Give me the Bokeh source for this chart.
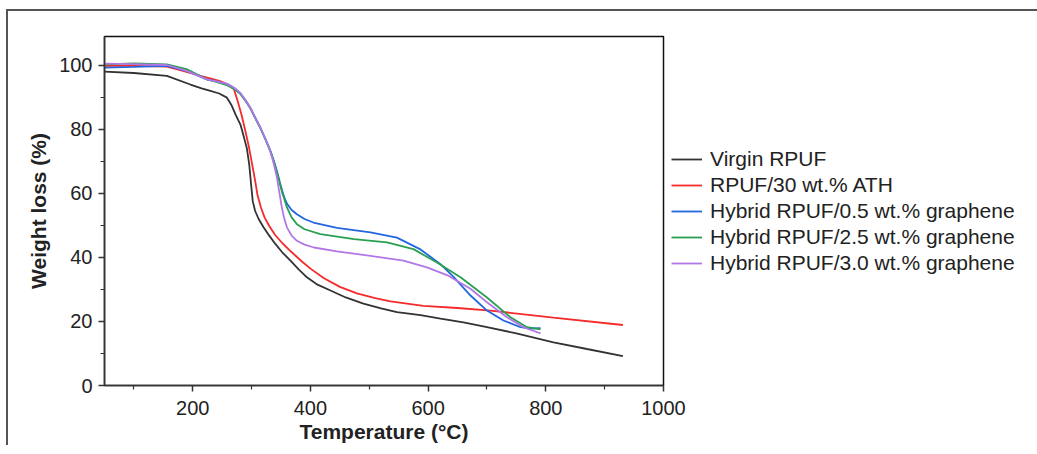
from bokeh.plotting import figure
from bokeh.models import Range1d, Legend, LegendItem, FixedTicker
from bokeh.embed import file_html
from bokeh.resources import INLINE

# ---- data ----
virgin_T = [50, 100, 156, 196, 215, 230, 245, 258, 266, 273, 281, 287, 292, 296, 299, 302, 306, 312, 320, 330, 340, 352, 366, 380, 394, 412, 435, 460, 490, 520, 547, 587, 621, 660, 700, 750, 813, 870, 931]
virgin_W = [98.0, 97.6, 96.7, 94.0, 92.8, 92.0, 91.2, 89.9, 87.5, 84.5, 81.5, 77.5, 74.0, 69.0, 63.0, 57.5, 54.5, 52.0, 49.5, 46.8, 44.3, 41.6, 39.0, 36.3, 33.8, 31.5, 29.6, 27.5, 25.6, 24.1, 22.9, 22.0, 20.9, 19.7, 18.2, 16.3, 13.5, 11.4, 9.2]

ath_T = [50, 100, 156, 185, 213, 236, 250, 262, 270, 276, 283, 290, 296, 301, 306, 310, 316, 322, 330, 340, 352, 366, 385, 400, 423, 450, 479, 510, 536, 592, 650, 706, 813, 931]
ath_W = [99.8, 99.8, 99.6, 98.2, 96.7, 95.6, 94.8, 93.8, 92.5, 89.0, 84.5, 79.0, 74.0, 69.0, 64.0, 59.5, 55.5, 52.5, 49.8, 47.0, 44.5, 42.0, 38.8, 36.5, 33.5, 30.8, 28.8, 27.3, 26.3, 24.9, 24.2, 23.4, 21.2, 18.9]

g05_T = [50, 100, 156, 191, 224, 240, 258, 270, 281, 290, 298, 306, 315, 324, 332, 338, 343, 348, 352, 356, 360, 368, 377, 390, 405, 445, 502, 547, 587, 621, 644, 672, 700, 728, 757, 775, 791]
g05_W = [99.3, 99.5, 99.8, 98.2, 95.6, 95.0, 94.2, 93.0, 91.3, 89.0, 86.7, 83.7, 80.5, 76.8, 73.3, 70.0, 67.0, 63.5, 60.8, 58.5, 56.8, 54.8, 53.5, 52.0, 50.9, 49.2, 47.8, 46.2, 42.5, 37.9, 33.8, 28.1, 23.4, 20.3, 18.2, 17.8, 17.9]

g25_T = [50, 100, 156, 191, 224, 240, 258, 270, 281, 290, 298, 306, 315, 324, 332, 338, 343, 348, 352, 356, 360, 368, 377, 390, 417, 474, 530, 575, 615, 655, 700, 740, 768, 791]
g25_W = [100.3, 100.6, 100.3, 98.7, 95.6, 94.8, 93.8, 92.6, 91.0, 88.8, 86.5, 83.5, 80.3, 76.6, 73.0, 69.8, 66.5, 63.0, 60.2, 58.0, 55.6, 52.5, 50.4, 48.8, 47.3, 45.7, 44.7, 42.6, 38.4, 33.8, 27.5, 21.3, 18.2, 17.5]

g30_T = [50, 100, 156, 191, 224, 240, 258, 270, 281, 290, 298, 306, 315, 324, 332, 338, 343, 347, 351, 355, 360, 368, 377, 390, 406, 445, 502, 558, 598, 632, 672, 700, 734, 762, 791]
g30_W = [100.5, 100.4, 100.1, 98.2, 95.6, 95.0, 94.2, 93.0, 91.3, 89.0, 86.7, 83.7, 80.5, 76.8, 73.0, 69.0, 65.0, 60.5, 56.0, 52.5, 49.4, 46.8, 45.2, 44.0, 43.1, 41.9, 40.5, 39.0, 36.9, 34.5, 30.2, 26.0, 21.3, 18.2, 16.3]

series_names = ["Virgin RPUF", "RPUF/30 wt.% ATH", "Hybrid RPUF/0.5 wt.% graphene",
                "Hybrid RPUF/2.5 wt.% graphene", "Hybrid RPUF/3.0 wt.% graphene"]
series_T = [virgin_T, ath_T, g05_T, g25_T, g30_T]
series_W = [virgin_W, ath_W, g05_W, g25_W, g30_W]
colors = ["#333333", "#f52a2a", "#2266e0", "#28a050", "#b277e6"]

x_ticks = [200, 400, 600, 800, 1000]
x_minor = [100, 300, 500, 700, 900]
y_ticks = [0, 20, 40, 60, 80, 100]
y_minor = [10, 30, 50, 70, 90]

FONT = "Liberation Sans"

p = figure(output_backend="svg", toolbar_location=None,
           frame_width=559, frame_height=349,
           min_border_left=96, min_border_right=366, min_border_top=25, min_border_bottom=58,
           x_range=Range1d(50, 1000), y_range=Range1d(0, 109))
p.margin = (9, 0, 0, 6)
p.styles = {"border-left": "2px solid #555555", "border-top": "2px solid #555555"}
p.grid.visible = False
p.outline_line_color = "#111111"
p.outline_line_width = 1.5
p.background_fill_color = "white"
p.border_fill_color = "white"

p.xaxis.ticker = FixedTicker(ticks=x_ticks, minor_ticks=x_minor)
p.yaxis.ticker = FixedTicker(ticks=y_ticks, minor_ticks=y_minor)

for ax in (p.xaxis[0], p.yaxis[0]):
    ax.axis_line_color = "#333333"
    ax.axis_line_width = 1.5
    ax.major_tick_line_color = "#333333"
    ax.minor_tick_line_color = "#333333"
    ax.major_tick_line_width = 1.5
    ax.minor_tick_line_width = 1.2
    ax.major_tick_in = 0
    ax.major_tick_out = 6
    ax.minor_tick_in = 0
    ax.minor_tick_out = 4
    ax.major_label_text_font = FONT
    ax.major_label_text_font_size = "20px"
    ax.major_label_text_color = "#222222"
    ax.axis_label_text_font = FONT
    ax.axis_label_text_font_size = "21px"
    ax.axis_label_text_font_style = "bold"
    ax.axis_label_text_color = "#222222"

p.xaxis.axis_label = "Temperature (°C)"
p.yaxis.axis_label = "Weight loss (%)"
p.xaxis.major_label_standoff = 9
p.yaxis.major_label_standoff = 6
p.xaxis.axis_label_standoff = 2
p.yaxis.axis_label_standoff = 6

items = []
for name, T, W, c in zip(series_names, series_T, series_W, colors):
    r = p.line(T, W, line_color=c, line_width=1.8)
    items.append(LegendItem(label=name, renderers=[r]))

legend = Legend(items=items, location="center_left", padding=0, margin=8,
                border_line_color=None, background_fill_alpha=0,
                glyph_width=31, glyph_height=20, label_height=20, spacing=2,
                label_standoff=8, label_text_font=FONT, label_text_font_size="21px",
                label_text_color="#222222")
p.add_layout(legend, "right")

open("out.html", "w").write(file_html(p, INLINE))
